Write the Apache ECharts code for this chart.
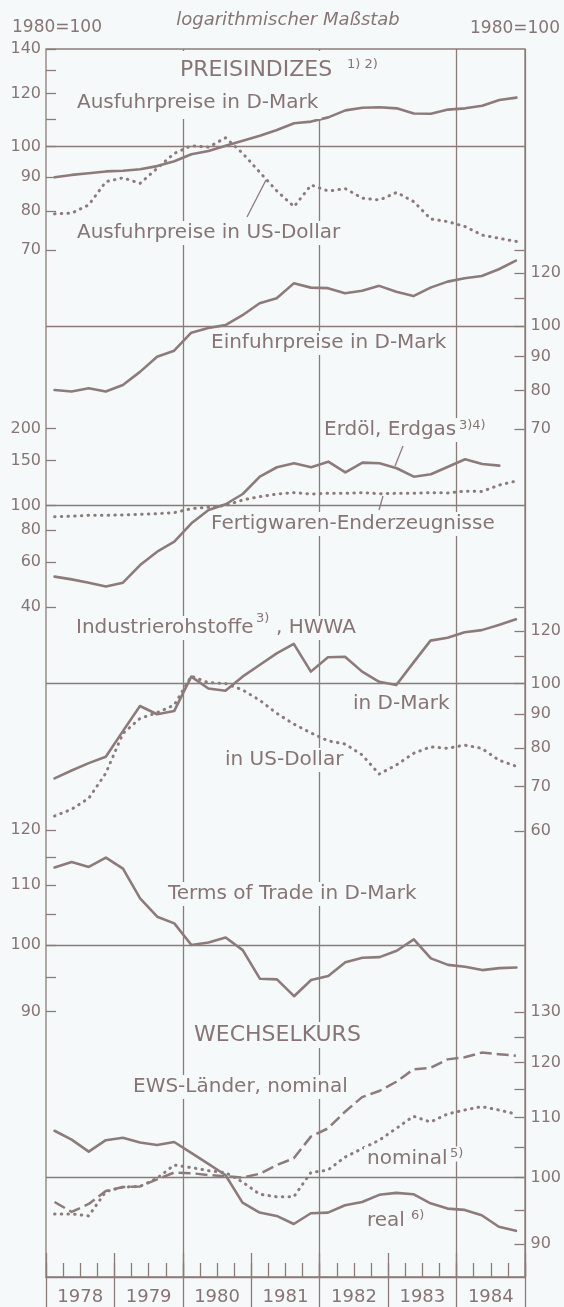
<!DOCTYPE html>
<html><head><meta charset="utf-8">
<script src="https://cdn.jsdelivr.net/npm/echarts@6/dist/echarts.min.js"></script>
<style>html,body{margin:0;padding:0;background:#f5f9fa;} #c{width:564px;height:1307px;}</style>
</head><body><div id="c"></div><script>
const quarters = ['1978 I','1978 II','1978 III','1978 IV','1979 I','1979 II','1979 III','1979 IV',
  '1980 I','1980 II','1980 III','1980 IV','1981 I','1981 II','1981 III','1981 IV',
  '1982 I','1982 II','1982 III','1982 IV','1983 I','1983 II','1983 III','1983 IV',
  '1984 I','1984 II','1984 III','1984 IV'];
const years = ['1978','1979','1980','1981','1982','1983','1984'];
const gridYears = ['1980','1982','1984'];

const exportDM  = [90.0,90.7,91.2,91.8,92.0,92.5,93.5,95.1,97.4,98.5,100.3,102.0,103.8,105.9,108.4,109.0,110.6,113.3,114.3,114.5,114.1,112.1,112.0,113.6,114.1,115.1,117.4,118.4];
const exportUSD = [79.3,79.5,81.8,88.6,89.8,88.1,92.8,97.7,100.3,99.8,103.1,97.7,91.5,85.8,81.3,87.6,85.8,86.5,83.7,83.2,85.4,82.7,77.9,77.2,75.9,73.7,72.9,72.1];
const importDM  = [80.1,79.7,80.6,79.7,81.5,85.3,89.9,91.8,97.7,99.3,100.3,103.8,108.2,110.1,115.9,114.2,114.0,112.0,113.0,114.9,112.6,110.9,114.2,116.6,118.0,118.9,121.7,125.4];
const oilGas    = [52.6,51.3,49.8,48.1,49.8,58.4,65.9,72.1,85.1,96.0,101.1,110.9,129.7,141.2,146.4,141.2,148.5,134.9,147.2,146.4,139.9,129.7,132.6,141.9,151.8,145.5,143.3,null];
const finished  = [90.4,90.7,91.5,91.5,91.8,92.3,92.9,93.7,97.2,98.4,100.0,105.1,108.3,110.9,112.3,110.9,111.6,111.6,112.3,111.2,111.6,111.6,112.3,112.0,113.8,113.5,120.3,124.8];
const rawDM     = [72.0,74.0,75.9,77.6,84.8,92.5,89.9,90.9,102.4,98.3,97.5,102.4,106.6,111.0,114.7,104.2,109.5,109.7,104.2,100.6,99.5,107.5,116.0,117.2,119.4,120.3,122.5,124.9];
const rawUSD    = [63.2,64.7,67.2,73.3,84.1,88.6,90.4,92.8,102.6,100.3,100.0,97.8,94.4,90.2,86.9,84.3,82.0,81.1,78.1,73.1,75.4,78.5,80.3,79.9,80.8,79.9,76.7,75.1];
const termsOfTrade = [113.1,114.1,113.2,114.9,112.9,107.7,104.6,103.5,100.0,100.4,101.2,99.2,94.8,94.7,92.2,94.6,95.2,97.3,98.0,98.1,99.1,100.9,97.9,96.9,96.6,96.1,96.4,96.5];
const ewsNominal = [96.2,94.7,95.9,97.9,98.5,98.6,99.7,100.8,100.7,100.4,100.2,100.0,100.6,102.0,103.1,106.7,108.1,111.0,113.6,114.7,116.4,118.7,119.0,120.6,121.0,121.9,121.6,121.3];
const fxNominal  = [94.4,94.4,94.1,97.8,98.5,98.6,99.9,102.0,101.6,101.1,100.8,99.3,97.4,97.0,97.0,100.8,101.2,103.3,104.7,106.1,108.1,110.2,109.2,110.6,111.3,111.9,111.3,110.6];
const fxReal     = [107.7,106.2,104.2,106.1,106.5,105.7,105.3,105.8,104.0,102.2,100.4,96.1,94.6,94.1,92.9,94.5,94.6,95.7,96.2,97.3,97.6,97.4,96.0,95.2,95.0,94.2,92.5,91.9];

const ticks1 = [70,80,90,100,110,120,130,140], labels1 = [70,80,90,100,120,140];
const ticks2 = [70,80,90,100,110,120,130],     labels2 = [70,80,90,100,120];
const ticks3 = [40,60,80,100,150,200],         labels3 = [40,60,80,100,150,200];
const ticks4 = [60,70,80,90,100,110,120,130],  labels4 = [60,70,80,90,100,120];
const ticks5 = [90,95,100,105,110,115,120],    labels5 = [90,100,110,120];
const ticks6 = [90,95,100,105,110,115,120,125,130], labels6 = [90,100,110,120,130];

const INK = '#877575', LINE = '#8d7b7b', BG = '#f5f9fa';
const FONT = "'DejaVu Sans', sans-serif";
const L = 46, R = 39;

const panels = [
  {pos:'left',  min:60, max:145, top:38.8,  height:256.0, ticks:ticks1, labels:labels1},
  {pos:'right', min:60, max:140, top:228.8, height:244.7, ticks:ticks2, labels:labels2},
  {pos:'left',  min:30, max:300, top:383.8, height:255.0, ticks:ticks3, labels:labels3},
  {pos:'right', min:50, max:150, top:566.4, height:317.3, ticks:ticks4, labels:labels4},
  {pos:'left',  min:85, max:125, top:804.5, height:242.9, ticks:ticks5, labels:labels5},
  {pos:'right', min:85, max:135, top:988.2, height:291.9, ticks:ticks6, labels:labels6}
];

const grid = [{left:L, right:R, top:49, bottom:30, show:true, borderColor:LINE, borderWidth:1.3, backgroundColor:'transparent'}];
const xAxis = [
  {gridIndex:0, type:'category', data:years, boundaryGap:true, position:'bottom',
   axisLine:{show:true, lineStyle:{color:LINE, width:1.3}},
   axisTick:{show:true, inside:false, length:30, interval:0, lineStyle:{color:LINE, width:1.3}},
   axisLabel:{show:true, interval:0, margin:11, color:INK, fontFamily:FONT, fontSize:18},
   splitLine:{show:true, interval:(i, v) => gridYears.includes(v), lineStyle:{color:LINE, width:1.3}}},
  {gridIndex:0, type:'category', data:years, boundaryGap:true, position:'bottom',
   axisLine:{show:false}, axisLabel:{show:false}, splitLine:{show:false},
   axisTick:{show:true, inside:true, length:24, interval:0, lineStyle:{color:LINE, width:1.3}}},
  {gridIndex:0, type:'category', data:quarters, boundaryGap:true, position:'bottom',
   axisLine:{show:false}, axisLabel:{show:false}, splitLine:{show:false},
   axisTick:{show:true, inside:true, length:14, interval:0, lineStyle:{color:LINE, width:1.3}}}
];
const yAxis = [{gridIndex:0, type:'value', show:false}];

panels.forEach((p, k) => {
  grid.push({left:L, right:R, top:p.top, height:p.height, show:false});
  xAxis.push({gridIndex:k+1, type:'category', data:quarters, boundaryGap:true, show:false});
  yAxis.push({gridIndex:k+1, type:'log', logBase:10, min:p.min, max:p.max, position:p.pos,
    axisLine:{show:false}, splitLine:{show:false}, minorTick:{show:false},
    axisTick:{show:true, inside:true, length:10, customValues:p.ticks, lineStyle:{color:LINE, width:1.3}},
    axisLabel:{show:true, customValues:p.labels, margin:p.pos === 'left' ? 5 : 6, color:INK, fontFamily:FONT, fontSize:16}});
});

const hundred = {symbol:['none','none'], silent:true, animation:false, label:{show:false},
  lineStyle:{color:LINE, width:1.3, type:'solid'}, emphasis:{disabled:true}, data:[{yAxis:100}]};

function line(data, k, kind, withBase) {
  const ls = {color:LINE, width:2.6, cap:'round', join:'round'};
  if (kind === 'dot') { ls.type = [0.5, 6.2]; ls.width = 3; }
  if (kind === 'dash') { ls.type = [12, 5]; ls.width = 2.5; ls.cap = 'butt'; }
  const s = {type:'line', data, xAxisIndex:2+k, yAxisIndex:k, showSymbol:false, symbol:'none',
    lineStyle:ls, silent:true, z:3, connectNulls:false, emphasis:{disabled:true}};
  if (withBase) s.markLine = hundred;
  return s;
}

const series = [
  line(exportDM, 1, 'solid', true), line(exportUSD, 1, 'dot'),
  line(importDM, 2, 'solid', true),
  line(oilGas, 3, 'solid', true), line(finished, 3, 'dot'),
  line(rawDM, 4, 'solid', true), line(rawUSD, 4, 'dot'),
  line(termsOfTrade, 5, 'solid', true),
  line(ewsNominal, 6, 'dash', true), line(fxNominal, 6, 'dot'), line(fxReal, 6, 'solid')
];

function txt(text, x, y, size, extra) {
  return Object.assign({type:'text', x, y, z:100, silent:true,
    style:Object.assign({text, fill:INK, fontFamily:FONT, fontSize:size, align:'left', verticalAlign:'middle',
      backgroundColor:BG, padding:[2,3]}, extra || {})});
}
function sup(text, x, y) { return txt(text, x, y, 13, {padding:[1,1]}); }
function lead(x1, y1, x2, y2) {
  return {type:'line', z:101, silent:true, shape:{x1, y1, x2, y2}, style:{stroke:LINE, lineWidth:1.3}};
}

const graphic = [
  txt('1980=100', 9, 28, 17, {backgroundColor:'transparent'}),
  txt('logarithmischer Maßstab', 288, 20, 18, {align:'center', fontStyle:'italic', backgroundColor:'transparent'}),
  txt('1980=100', 563, 29, 17, {align:'right', backgroundColor:'transparent'}),
  txt('PREISINDIZES', 177, 70, 22, {padding:[8,3]}), sup('1) 2)', 346, 65),
  txt('Ausfuhrpreise in D-Mark', 74, 103, 20, {padding:[6,3]}),
  txt('Ausfuhrpreise in US-Dollar', 74, 233, 20),
  lead(247, 217, 266, 180),
  txt('Einfuhrpreise in D-Mark', 208, 343, 20),
  txt('Erdöl, Erdgas', 321, 430, 20), sup('3)4)', 458, 426),
  lead(403, 446, 395, 466),
  txt('Fertigwaren-Enderzeugnisse', 208, 524, 20),
  lead(379, 510, 383, 496),
  txt('Industrierohstoffe', 73, 628, 20), sup('3)', 255, 619), txt(', HWWA', 275, 628, 20, {padding:[2,1]}),
  txt('in D-Mark', 350, 704, 20),
  txt('in US-Dollar', 222, 760, 20),
  txt('Terms of Trade in D-Mark', 165, 894, 20),
  txt('WECHSELKURS', 191, 1035, 22),
  txt('EWS-Länder, nominal', 130, 1087, 20),
  txt('nominal', 364, 1159, 20), sup('5)', 449, 1154),
  txt('real', 364, 1221, 20), sup('6)', 410, 1216)
];

const chart = echarts.init(document.getElementById('c'), null, {renderer:'canvas'});
chart.setOption({backgroundColor:BG, animation:false, grid, xAxis, yAxis, series, graphic});
</script></body></html>
